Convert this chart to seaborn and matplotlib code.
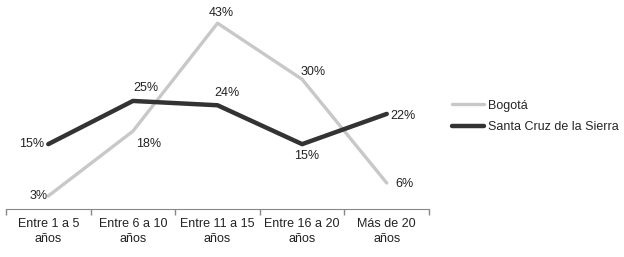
import matplotlib
matplotlib.use("Agg")
import matplotlib.pyplot as plt
import seaborn as sns
import pandas as pd
import numpy as np
from matplotlib.lines import Line2D

categories = ["Entre 1 a 5\naños", "Entre 6 a 10\naños", "Entre 11 a 15\naños",
              "Entre 16 a 20\naños", "Más de 20\naños"]
bogota = [3, 18, 43, 30, 6]
santa_cruz = [15, 25, 24, 15, 22]
series_names = ["Bogotá", "Santa Cruz de la Sierra"]

sns.set_theme(style="white")
plt.rcParams["font.family"] = ["Liberation Sans", "DejaVu Sans"]

df = pd.DataFrame({
    "x": list(range(len(categories))) * 2,
    "value": bogota + santa_cruz,
    "serie": [series_names[0]] * len(bogota) + [series_names[1]] * len(santa_cruz),
})

fig = plt.figure(figsize=(6.24, 2.57), dpi=100)
ax = fig.add_axes([0.0096, 0.187, 0.678, 0.79])
palette = {series_names[0]: "#c8c8c8", series_names[1]: "#333333"}
sns.lineplot(data=df, x="x", y="value", hue="serie", palette=palette, ax=ax,
             legend=False)
ax.lines[0].set_linewidth(2.4)
ax.lines[1].set_linewidth(3.2)
ax.lines[1].set_zorder(3)

ax.set_xlim(-0.5, len(categories) - 0.5)
ax.set_ylim(0, 47)
ax.set_xticks(range(len(categories)))
ax.set_xticklabels(categories, fontsize=9, color="#222222", linespacing=1.35)
ax.set_xticks(np.arange(-0.5, len(categories), 1), minor=True)
ax.tick_params(axis="x", which="major", length=0, pad=6.5)
ax.tick_params(axis="x", which="minor", length=4, color="#888888", direction="out", bottom=True)
ax.set_yticks([])
ax.set_xlabel("")
ax.set_ylabel("")
for s in ["top", "right", "left"]:
    ax.spines[s].set_visible(False)
ax.spines["bottom"].set_color("#888888")
ax.spines["bottom"].set_linewidth(0.8)

fs = 9
tc = "#222222"
bog_off = [(-7, 0), (11.5, -9.5), (3, 7), (8, 5), (13, -1)]
sc_off = [(-12, 0), (9, 9), (6.5, 8.5), (3.5, -8.5), (11.5, -1.5)]
for i, (v, o) in enumerate(zip(bogota, bog_off)):
    ax.annotate(f"{v}%", (i, v), xytext=o, textcoords="offset points",
                ha="center", va="center", fontsize=fs, color=tc)
for i, (v, o) in enumerate(zip(santa_cruz, sc_off)):
    ax.annotate(f"{v}%", (i, v), xytext=o, textcoords="offset points",
                ha="center", va="center", fontsize=fs, color=tc)

handles = [Line2D([], [], color=palette[series_names[0]], lw=2.4),
           Line2D([], [], color=palette[series_names[1]], lw=3.2)]
fig.legend(handles, series_names, loc="upper left", bbox_to_anchor=(0.724, 0.612),
           frameon=False, fontsize=9, handlelength=2.6, handletextpad=0.3,
           labelspacing=0.75, borderaxespad=0, borderpad=0)

fig.savefig("out.png", dpi=100)
